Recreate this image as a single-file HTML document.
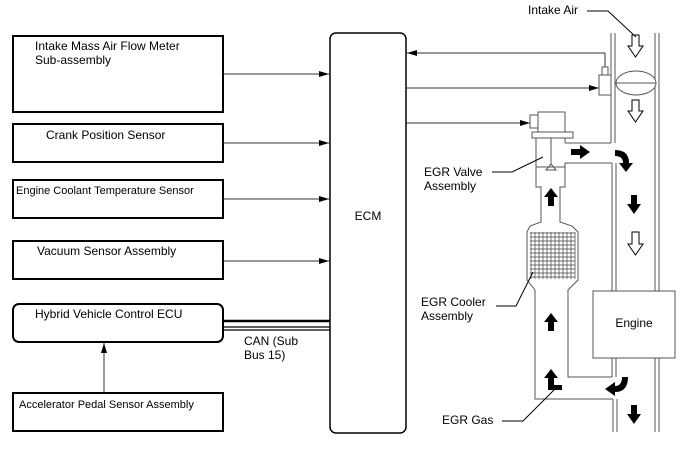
<!DOCTYPE html>
<html><head><meta charset="utf-8"><style>
html,body{margin:0;padding:0;background:#fff;}
svg{display:block;}
text{font-family:"Liberation Sans",Arial,sans-serif;fill:#000;}
</style></head><body>
<svg width="688" height="463" viewBox="0 0 688 463" xmlns="http://www.w3.org/2000/svg">
<defs>
<marker id="ah" markerWidth="10" markerHeight="6" refX="10" refY="3" orient="auto" markerUnits="userSpaceOnUse">
<path d="M0,0 L10,3 L0,6 Z" fill="#000"/></marker>
</defs>
<g fill="none" stroke="#000">
<rect x="13" y="36" width="210" height="76" stroke-width="2"/>
<rect x="13" y="124" width="210" height="38" stroke-width="2"/>
<rect x="13" y="180" width="210" height="38" stroke-width="2"/>
<rect x="13" y="241" width="210" height="38" stroke-width="2"/>
<rect x="13" y="304" width="210" height="38" rx="6" stroke-width="2"/>
<rect x="13" y="393" width="210" height="38" stroke-width="2"/>
<rect x="330" y="33" width="76" height="400" rx="6" stroke-width="1.5"/>
</g>
<g stroke="#333" stroke-width="1" fill="none">
<line x1="223" y1="74" x2="329" y2="74" marker-end="url(#ah)"/>
<line x1="223" y1="143" x2="329" y2="143" marker-end="url(#ah)"/>
<line x1="223" y1="199" x2="329" y2="199" marker-end="url(#ah)"/>
<line x1="223" y1="261" x2="329" y2="261" marker-end="url(#ah)"/>
<line x1="104" y1="393" x2="104" y2="343" marker-end="url(#ah)"/>
<line x1="605" y1="67" x2="605" y2="53"/>
<line x1="605" y1="53" x2="407" y2="53" marker-end="url(#ah)"/>
<line x1="406" y1="88" x2="599" y2="88" marker-end="url(#ah)"/>
<line x1="406" y1="123" x2="530" y2="123" marker-end="url(#ah)"/>
</g>
<g stroke="#000">
<line x1="223" y1="321" x2="330" y2="321" stroke-width="2.5"/>
<line x1="223" y1="327" x2="330" y2="327" stroke-width="1.2"/>
<line x1="223" y1="330" x2="330" y2="330" stroke-width="1.2"/>
</g>
<g stroke="#555" stroke-width="1" fill="none">
<line x1="611" y1="33" x2="611" y2="143"/><line x1="615" y1="33" x2="615" y2="143"/>
<line x1="612" y1="163" x2="612" y2="377"/><line x1="616" y1="163" x2="616" y2="377"/>
<line x1="613" y1="399" x2="613" y2="432"/><line x1="617" y1="399" x2="617" y2="432"/>
<line x1="655" y1="33" x2="655" y2="291"/><line x1="659" y1="33" x2="659" y2="291"/>
<line x1="655" y1="358" x2="655" y2="432"/><line x1="659" y1="358" x2="659" y2="432"/>
<rect x="593" y="291" width="82" height="67" fill="#fff"/>
<line x1="565" y1="143" x2="611" y2="143"/>
<line x1="565" y1="163" x2="612" y2="163"/>
<polyline points="536,138 536,187 541,187 541,222 530,226 527,232 527,280 535,290 535,399 613,399"/>
<polyline points="565,138 565,143"/>
<polyline points="565,163 565,187 560,187 560,222 572,226 578,232 578,280 568,290 568,377 612,377"/>
<line x1="536" y1="167" x2="565" y2="167"/>
<line x1="551" y1="138" x2="551" y2="164"/>
<path d="M551,164 L556,170 L546,170 Z"/>
<rect x="538" y="112" width="27" height="20" fill="#fff"/>
<rect x="530" y="115" width="8" height="13" fill="#fff"/>
<rect x="532" y="132" width="41" height="6" fill="#fff"/>
<rect x="599" y="75" width="12" height="20" fill="#fff"/>
<rect x="602" y="67" width="6" height="8" fill="#fff"/>
<ellipse cx="636" cy="83" rx="20" ry="12" fill="#fff"/>
<line x1="616" y1="83" x2="656" y2="83"/>
</g>
<g stroke="#444" stroke-width="0.7">
<path d="M530,233 H575 M530,237 H575 M530,241 H575 M530,245 H575 M530,249 H575 M530,253 H575 M530,257 H575 M530,261 H575 M530,265 H575 M530,269 H575 M530,273 H575 M530,277 H575"/>
<path d="M531,232 V279 M535,232 V279 M539,232 V279 M543,232 V279 M547,232 V279 M551,232 V279 M555,232 V279 M559,232 V279 M563,232 V279 M567,232 V279 M571,232 V279 M575,232 V279"/>
</g>
<g fill="#fff" stroke="#000" stroke-width="1">
<path d="M632,35 H639 V46 H643 L635.5,57 L628,46 H632 Z"/>
<path d="M632,100 H639 V111 H643 L635.5,122 L628,111 H632 Z"/>
<path d="M632,232 H639 V244 H643 L635.5,255 L628,244 H632 Z"/>
</g>
<g fill="#000">
<path d="M571,149 H580 V145 L590,152 L580,159 V155 H571 Z"/>
<path d="M548,206 V197 H544 L551,188 L558,197 H554 V206 Z"/>
<path d="M548,331 V322 H544 L551,313 L558,322 H554 V331 Z"/>
<path d="M631,195 H637 V204 H641 L634,214 L627,204 H631 Z"/>
<path d="M631,405 H637 V414 H641 L634,424 L627,414 H631 Z"/>
<path d="M615,150 Q629,150 629,163 H633 L626,172 L619,163 H623 Q623,156 615,156 Z"/>
<path d="M628,377 Q628,392 615,392 V396 L605,389 L615,382 V386 Q622,386 622,377 Z"/>
<path d="M548,390 V378 H544 L551,369 L558,378 H554 V385 H562 V390 Z"/>
</g>
<g stroke="#000" stroke-width="1" fill="none">
<polyline points="587,11 608,11 636,37"/>
<polyline points="492,172 512,172 543,157"/>
<polyline points="496,306 516,306 533,272"/>
<polyline points="502,421 523,421 556,388"/>
</g>
<g font-size="12">
<text x="35" y="50">Intake Mass Air Flow Meter</text>
<text x="35" y="64">Sub-assembly</text>
<text x="46" y="139">Crank Position Sensor</text>
<text x="16" y="194" font-size="11">Engine Coolant Temperature Sensor</text>
<text x="37" y="255">Vacuum Sensor Assembly</text>
<text x="35" y="318">Hybrid Vehicle Control ECU</text>
<text x="19" y="408" font-size="11">Accelerator Pedal Sensor Assembly</text>
<text x="368" y="220" text-anchor="middle">ECM</text>
<text x="244" y="345">CAN (Sub</text>
<text x="244" y="359">Bus 15)</text>
<text x="528" y="14">Intake Air</text>
<text x="424" y="176">EGR Valve</text>
<text x="424" y="190">Assembly</text>
<text x="421" y="306">EGR Cooler</text>
<text x="421" y="320">Assembly</text>
<text x="442" y="424">EGR Gas</text>
<text x="634" y="327" text-anchor="middle">Engine</text>
</g>
</svg>
</body></html>
